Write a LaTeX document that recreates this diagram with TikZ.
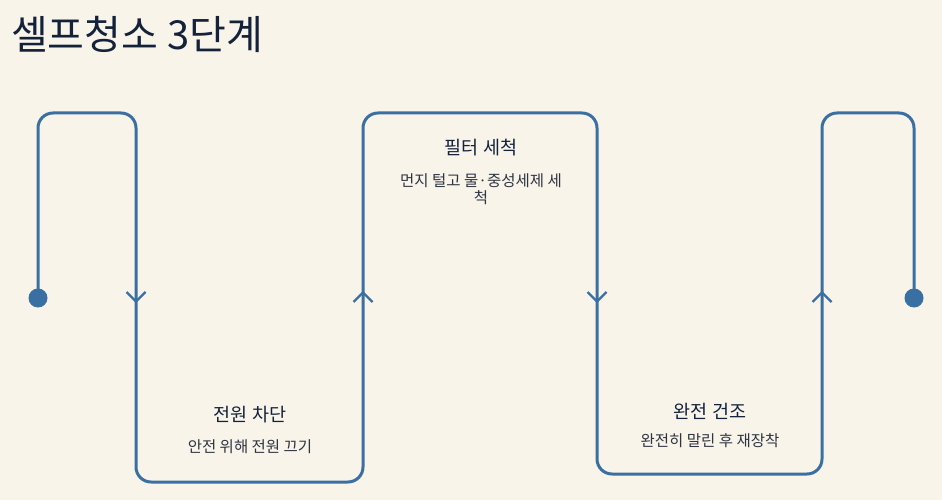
\documentclass[tikz,border=0pt]{standalone}
\usepackage{fontspec}
\setmainfont{Noto Sans CJK KR}
\definecolor{bg}{HTML}{F8F4EA}
\definecolor{line}{HTML}{3A6FA3}
\definecolor{ink}{HTML}{13223A}
\definecolor{sub}{HTML}{2E3440}
\begin{document}
\begin{tikzpicture}[x=1pt,y=-1pt,
  wire/.style={draw=line,line width=3pt,rounded corners=15pt},
  chev/.style={draw=line,line width=2.2pt},
  dotnode/.style={circle,fill=line,inner sep=0pt,minimum size=19pt},
  ttl/.style={font=\fontsize{40}{44}\selectfont,text=ink,anchor=west,inner sep=0pt},
  head/.style={font=\fontsize{18.5}{22}\selectfont,text=ink,inner sep=0pt},
  desc/.style={font=\fontsize{15.5}{17}\selectfont,text=sub,inner sep=0pt,align=center}]
\fill[bg] (0,0) rectangle (942,500);
\useasboundingbox (0,0) rectangle (942,500);
\node[ttl] (title) at (11,34) {셀프청소 3단계};
\coordinate (s) at (38,298);
\coordinate (e) at (914,298);
\draw[wire] (s) -- (38,113) -- (136,113) -- (136,482) -- (363,482) -- (363,113) -- (597,113) -- (597,474) -- (822,474) -- (822,113) -- (914,113) -- (e);
\node[dotnode] (d1) at (s) {};
\node[dotnode] (d2) at (e) {};
\draw[chev] (126.5,292) -- (136,301.5) -- (145.5,292);
\draw[chev] (353.5,302) -- (363,292.5) -- (372.5,302);
\draw[chev] (587.5,292) -- (597,301.5) -- (606.5,292);
\draw[chev] (812.5,302) -- (822,292.5) -- (831.5,302);
\node[head] (h1) at (250,415) {전원 차단};
\node[desc] (t1) at (250,447) {안전 위해 전원 끄기};
\node[head] (h2) at (481,148) {필터 세척};
\node[desc] (t2) at (481,189) {먼지 털고 물·중성세제 세\\척};
\node[head] (h3) at (710,411) {완전 건조};
\node[desc] (t3) at (710,441) {완전히 말린 후 재장착};
\end{tikzpicture}
\end{document}
